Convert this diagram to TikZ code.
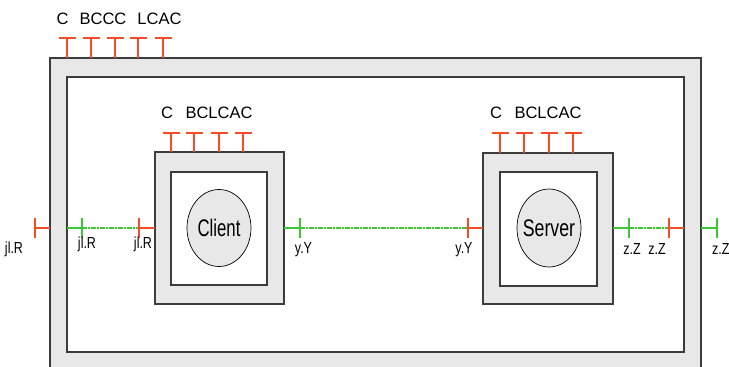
\documentclass[tikz,border=0pt]{standalone}
\usepackage{fontspec}
\setmainfont{Liberation Sans}
\usetikzlibrary{shapes.geometric}
\definecolor{portred}{RGB}{250,75,40}
\definecolor{portgreen}{RGB}{60,200,50}
\definecolor{boxgray}{RGB}{232,232,232}
\definecolor{edge}{RGB}{60,60,60}
\tikzset{
  shell/.style={draw=edge, fill=boxgray, line width=1.3pt},
  core/.style={draw=edge, fill=white, line width=1.3pt},
  proc/.style={draw=black, fill=boxgray, line width=0.7pt},
  redport/.style={draw=portred, line width=1.5pt},
  greenport/.style={draw=portgreen, line width=1.5pt},
  link/.style={draw=portgreen, line width=2.6pt, dash pattern=on 5pt off 1pt on 2pt off 1pt},
  toplbl/.style={inner sep=0pt, font=\fontsize{16.5}{16.5}\selectfont},
  plbl/.style={inner sep=0pt, font=\fontsize{16}{16}\selectfont},
  namelbl/.style={inner sep=0pt, font=\fontsize{24}{24}\selectfont},
}
\newcommand{\cond}[2]{\scalebox{#1}[1]{#2}}
\begin{document}
\begin{tikzpicture}[x=1pt,y=-1pt]
\clip (0,0) rectangle (729,367);
\fill[white] (0,0) rectangle (729,367);
% outer system box
\draw[shell] (50,58) rectangle (701,390);
\draw[core] (67,77) rectangle (684,352);
% client box
\draw[shell] (155,152) rectangle (284,304);
\draw[core] (171,172) rectangle (267,285);
\node[proc, ellipse, minimum width=64pt, minimum height=77pt, inner sep=0] (client) at (219,228) {};
\node[namelbl] at (client.center) {\cond{0.70}{Client}};
% server box
\draw[shell] (483,153) rectangle (613,304);
\draw[core] (500,172) rectangle (597,286);
\node[proc, ellipse, minimum width=64pt, minimum height=78pt, inner sep=0] (server) at (549,228) {};
\node[namelbl] at (server.center) {\cond{0.74}{Server}};

% top ports of outer box
\foreach \x in {67,91,115,138,163} {
  \draw[redport] (\x,58) -- (\x,38);
  \draw[redport] (\x-8.5,38) -- (\x+8.5,38);
}
\node[toplbl] (t1) at (62.5,19) {C};
\node[toplbl] (t2) at (103,19) {BCCC};
\node[toplbl] (t3) at (159.5,19) {LCAC};
% top ports of client
\foreach \x in {171,194,219,243} {
  \draw[redport] (\x,152) -- (\x,133);
  \draw[redport] (\x-8.5,133) -- (\x+8.5,133);
}
\node[toplbl] (c1) at (167,113) {C};
\node[toplbl] (c2) at (219,113) {BCLCAC};
% top ports of server
\foreach \x in {500,524,549,573} {
  \draw[redport] (\x,153) -- (\x,133);
  \draw[redport] (\x-8.5,133) -- (\x+8.5,133);
}
\node[toplbl] (s1) at (496,113) {C};
\node[toplbl] (s2) at (548,113) {BCLCAC};

% side ports
\coordinate (pa) at (35,228);
\coordinate (pb) at (82,228);
\coordinate (pc) at (139,228);
\coordinate (pd) at (300,228);
\coordinate (pe) at (468,228);
\coordinate (pf) at (629,228);
\coordinate (pg) at (669,228);
\coordinate (ph) at (717,228);
% links
\draw[link] (pb) -- (pc);
\draw[link] (pd) -- (pe);
\draw[link] (pf) -- (pg);
% port stubs
\draw[redport] (50,228) -- (pa);
\draw[redport] ([yshift=-10pt]pa) -- ([yshift=10pt]pa);
\draw[greenport] (67,228) -- (pb);
\draw[greenport] ([yshift=-10pt]pb) -- ([yshift=10pt]pb);
\draw[redport] (155,228) -- (pc);
\draw[redport] ([yshift=-10pt]pc) -- ([yshift=10pt]pc);
\draw[greenport] (284,228) -- (pd);
\draw[greenport] ([yshift=-10pt]pd) -- ([yshift=10pt]pd);
\draw[redport] (483,228) -- (pe);
\draw[redport] ([yshift=-10pt]pe) -- ([yshift=10pt]pe);
\draw[greenport] (613,228) -- (pf);
\draw[greenport] ([yshift=-10pt]pf) -- ([yshift=10pt]pf);
\draw[redport] (684,228) -- (pg);
\draw[redport] ([yshift=-10pt]pg) -- ([yshift=10pt]pg);
\draw[greenport] (701,228) -- (ph);
\draw[greenport] ([yshift=-10pt]ph) -- ([yshift=10pt]ph);
% port labels
\node[plbl] (la) at (14,249) {\cond{0.78}{jl.R}};
\node[plbl] (lb) at (87,244) {\cond{0.78}{jl.R}};
\node[plbl] (lc) at (143,244) {\cond{0.78}{jl.R}};
\node[plbl] (ld) at (303.5,250) {\cond{0.78}{y.Y}};
\node[plbl] (le) at (464,250) {\cond{0.78}{y.Y}};
\node[plbl] (lf) at (632,249) {\cond{0.78}{z.Z}};
\node[plbl] (lg) at (657,249) {\cond{0.78}{z.Z}};
\node[plbl, anchor=west] (lh) at (712,249) {\cond{0.78}{z.Z}};
\end{tikzpicture}
\end{document}
